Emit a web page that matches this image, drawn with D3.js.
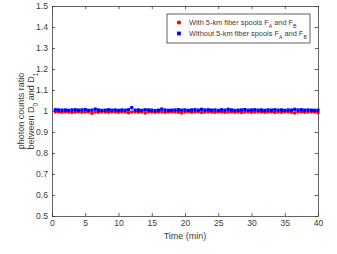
<!DOCTYPE html>
<html>
<head>
<meta charset="utf-8">
<script src="https://cdn.jsdelivr.net/npm/d3@7"></script>
<style>
  body { margin: 0; background: #fff; }
  text { font-family: "Liberation Sans", Arial, sans-serif; }
</style>
</head>
<body>
<div id="chart"></div>
<script>
// data (one point every 30 s)
var times = d3.range(1, 81).map(function(i) { return i * 0.5; });
var withSpools = [0.996,0.995,0.994,0.996,0.995,0.993,0.995,0.996,0.994,0.995,0.996,0.989,0.995,0.994,0.996,0.995,0.994,0.996,0.995,0.994,
  0.996,0.995,0.992,0.995,0.996,0.994,0.995,0.991,0.996,0.995,0.994,0.995,0.996,0.994,0.995,0.996,0.995,0.994,0.991,0.995,
  0.996,0.994,0.995,0.996,0.993,0.995,0.996,0.995,0.994,0.996,0.995,0.994,0.995,0.996,0.994,0.995,0.993,0.995,0.996,0.994,
  0.995,0.996,0.995,0.994,0.995,0.996,0.993,0.995,0.994,0.996,0.995,0.994,0.991,0.995,0.996,0.994,0.995,0.996,0.995,0.992];
var withoutSpools = [1.006,1.005,1.004,1.005,1.003,1.005,1.006,1.004,1.005,1.007,1.003,1.004,1.009,1.005,1.003,1.004,1.006,1.004,1.005,1.003,
  1.005,1.004,1.006,1.016,1.004,1.005,1.003,1.006,1.005,1.004,1.002,1.004,1.009,1.005,1.003,1.004,1.005,1.006,1.004,1.005,
  1.003,1.005,1.006,1.004,1.008,1.005,1.006,1.004,1.005,1.003,1.006,1.004,1.008,1.005,1.003,1.004,1.005,1.007,1.004,1.005,
  1.006,1.004,1.005,1.003,1.005,1.004,1.006,1.004,1.005,1.003,1.005,1.004,1.008,1.005,1.006,1.004,1.005,1.004,1.003,1.004];
var xTicks = [0, 5, 10, 15, 20, 25, 30, 35, 40];
var yTicks = [0.5, 0.6, 0.7, 0.8, 0.9, 1, 1.1, 1.2, 1.3, 1.4, 1.5];

var margin = {top: 6, right: 19, bottom: 38, left: 52},
    width = 337 - margin.left - margin.right,
    height = 254 - margin.top - margin.bottom;

var svg = d3.select("#chart")
  .append("svg")
    .attr("width", 337)
    .attr("height", 254)
  .append("g")
    .attr("transform", "translate(" + margin.left + "," + margin.top + ")");

var x = d3.scaleLinear().domain([0, 40]).range([0, width]);
var y = d3.scaleLinear().domain([0.5, 1.5]).range([height, 0]);

var axisColor = "#3a3a3a";

function styleAxis(g) {
  g.select(".domain").attr("stroke", axisColor).attr("stroke-width", 0.8);
  g.selectAll(".tick line").attr("stroke", axisColor).attr("stroke-width", 0.8);
  g.selectAll(".tick text").attr("fill", axisColor).style("font-size", "8.6px").style("font-family", "Liberation Sans, Arial, sans-serif");
}

// bottom and left with labels, top and right as box
svg.append("g")
  .attr("transform", "translate(0," + height + ")")
  .call(d3.axisBottom(x).tickValues(xTicks).tickSize(-3).tickSizeOuter(0).tickPadding(4))
  .call(styleAxis);
svg.append("g")
  .call(d3.axisLeft(y).tickValues(yTicks).tickFormat(d3.format("")).tickSize(-3).tickSizeOuter(0).tickPadding(4))
  .call(styleAxis);
svg.append("g")
  .call(d3.axisTop(x).tickValues(xTicks).tickSize(-3).tickSizeOuter(0).tickFormat(""))
  .call(styleAxis);
svg.append("g")
  .attr("transform", "translate(" + width + ",0)")
  .call(d3.axisRight(y).tickValues(yTicks).tickSize(-3).tickSizeOuter(0).tickFormat(""))
  .call(styleAxis);

// red circles
svg.selectAll("circle.with")
  .data(times)
  .enter()
  .append("circle")
    .attr("class", "with")
    .attr("cx", function(d) { return x(d); })
    .attr("cy", function(d, i) { return y(withSpools[i]); })
    .attr("r", 1.8)
    .style("fill", "#ff0000");

// blue squares
svg.selectAll("rect.without")
  .data(times)
  .enter()
  .append("rect")
    .attr("class", "without")
    .attr("x", function(d) { return x(d) - 1.6; })
    .attr("y", function(d, i) { return y(withoutSpools[i]) - 1.6; })
    .attr("width", 3.2)
    .attr("height", 3.2)
    .style("fill", "#0000ff");

// axis titles
svg.append("text")
  .attr("x", width / 2)
  .attr("y", height + 23)
  .attr("text-anchor", "middle")
  .style("font-size", "9px")
  .attr("fill", axisColor)
  .text("Time (min)");

var ylab = svg.append("text")
  .attr("transform", "translate(-23," + (height / 2) + ") rotate(-90)")
  .attr("text-anchor", "middle")
  .style("font-size", "9px")
  .attr("fill", axisColor);
ylab.append("tspan").attr("x", 0).attr("dy", -5).text("photon counts ratio");
var l2 = ylab.append("tspan").attr("x", 0).attr("dy", 9.5);
l2.append("tspan").text("between D");
l2.append("tspan").attr("baseline-shift", "sub").style("font-size", "6.5px").text("0");
l2.append("tspan").text(" and D");
l2.append("tspan").attr("baseline-shift", "sub").style("font-size", "6.5px").text("1");

// legend
var legend = svg.append("g")
  .attr("transform", "translate(" + (167 - margin.left) + "," + (14 - margin.top) + ")");
legend.append("rect")
  .attr("width", 143)
  .attr("height", 29)
  .attr("fill", "#fff")
  .attr("stroke", axisColor)
  .attr("stroke-width", 0.8);

var legendItems = [
  {label: "With 5-km fiber spools F", shape: "circle", color: "#ff0000", yy: 8.5},
  {label: "Without 5-km fiber spools F", shape: "square", color: "#0000ff", yy: 19.5}
];
legendItems.forEach(function(item) {
  if (item.shape === "circle") {
    legend.append("circle").attr("cx", 12).attr("cy", item.yy).attr("r", 2.1).style("fill", item.color);
  } else {
    legend.append("rect").attr("x", 10.1).attr("y", item.yy - 1.9).attr("width", 3.8).attr("height", 3.8).style("fill", item.color);
  }
  var t = legend.append("text")
    .attr("x", 22)
    .attr("y", item.yy + 2.5)
    .style("font-size", "7.4px")
    .attr("fill", axisColor);
  t.append("tspan").text(item.label);
  t.append("tspan").attr("baseline-shift", "sub").style("font-size", "5.2px").text("A");
  t.append("tspan").text(" and F");
  t.append("tspan").attr("baseline-shift", "sub").style("font-size", "5.2px").text("B");
});
</script>
</body>
</html>
